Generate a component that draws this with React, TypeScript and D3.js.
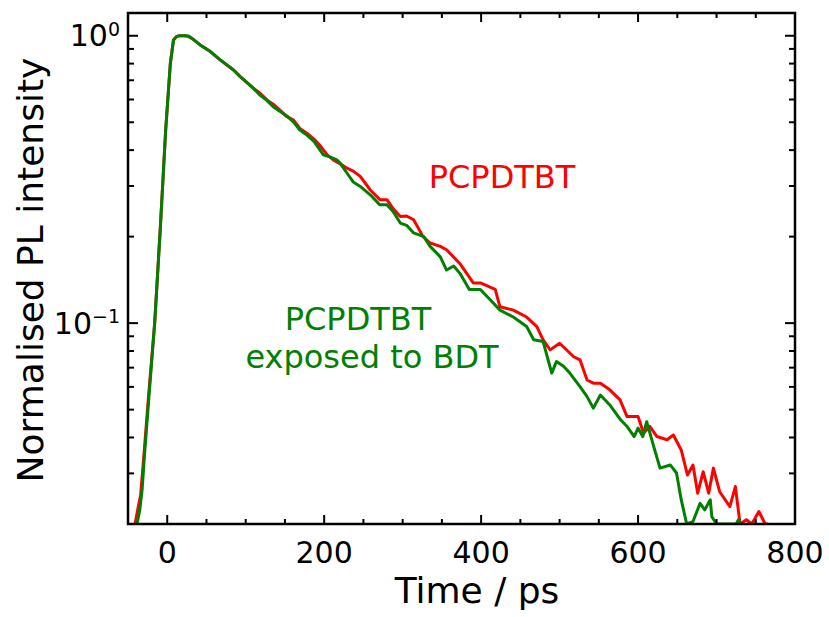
import * as d3 from 'd3';

const WIDTH = 829;
const HEIGHT = 617;
const PLOT = { left: 128, right: 795, top: 13, bottom: 524 };

// time (ps) / normalised PL
const redTime = [
  -41, -37, -34, -30, -24, -16, -9, -2, 4, 8, 12, 16, 22, 27, 31.5, 42, 55, 67.5, 84.5, 93,
  110, 118, 127, 135, 144, 152, 161, 169, 178, 187, 195, 204, 212, 220, 229, 237, 246, 259,
  271, 280, 288, 297, 305, 314, 326, 335, 348, 356, 373, 390, 399, 418, 424, 441, 458, 471,
  479, 488, 500, 518, 526, 535, 543, 552, 564, 577, 586, 600, 607, 615, 624, 637, 645, 655,
  663, 670, 676, 683, 690, 696, 704, 717, 724, 730, 738, 745, 754, 762, 766,
];
const redPL = [
  0.02, 0.0229, 0.0251, 0.0339, 0.055, 0.1, 0.211, 0.47, 0.804, 0.966, 0.995, 1.0, 1.0, 0.995,
  0.979, 0.929, 0.881, 0.824, 0.76, 0.721, 0.656, 0.632, 0.598, 0.578, 0.55, 0.524, 0.509,
  0.476, 0.458, 0.437, 0.414, 0.385, 0.369, 0.359, 0.346, 0.338, 0.324, 0.29, 0.269, 0.269,
  0.25, 0.235, 0.236, 0.229, 0.2, 0.19, 0.185, 0.18, 0.161, 0.138, 0.138, 0.131, 0.114, 0.111,
  0.105, 0.0973, 0.0875, 0.0807, 0.0851, 0.0764, 0.0745, 0.0634, 0.0618, 0.0618, 0.0586,
  0.0541, 0.0473, 0.0473, 0.0414, 0.0437, 0.0403, 0.0393, 0.0408, 0.0362, 0.0296, 0.0321,
  0.0256, 0.0304, 0.0256, 0.0313, 0.0259, 0.023, 0.027, 0.0195, 0.0207, 0.0199, 0.0221,
  0.0178, 0.017,
];

const greenTime = [
  -38.5, -35, -32, -29, -24, -16, -9, -2, 4, 8, 12, 16, 22, 27, 31.5, 42, 55, 67.5, 84.5, 93,
  110, 118, 127, 135, 144, 152, 161, 169, 178, 187, 199, 208, 216, 220, 229, 237, 246, 259,
  271, 280, 288, 297, 305, 314, 327, 335, 348, 356, 365, 373, 385, 399, 411, 424, 441, 458,
  467, 479, 490, 496, 505, 513, 526, 535, 543, 552, 564, 578, 586, 595, 600, 606, 611, 620,
  628, 641, 649, 655, 662, 670, 679, 685, 692, 694, 700, 704, 725, 728, 731,
];
const greenPL = [
  0.02, 0.0224, 0.0263, 0.0347, 0.0525, 0.1, 0.209, 0.468, 0.804, 0.966, 0.995, 1.0, 1.0,
  0.998, 0.979, 0.929, 0.881, 0.824, 0.76, 0.721, 0.656, 0.622, 0.596, 0.566, 0.545, 0.527,
  0.501, 0.47, 0.451, 0.429, 0.385, 0.378, 0.37, 0.361, 0.333, 0.31, 0.299, 0.279, 0.258,
  0.258, 0.244, 0.223, 0.219, 0.206, 0.2, 0.185, 0.17, 0.153, 0.158, 0.149, 0.131, 0.131,
  0.121, 0.111, 0.105, 0.0973, 0.0875, 0.0863, 0.067, 0.0735, 0.0708, 0.067, 0.0601, 0.0555,
  0.0506, 0.0562, 0.0519, 0.046, 0.0437, 0.0403, 0.0431, 0.0403, 0.0454, 0.0372, 0.0313,
  0.0321, 0.0301, 0.0243, 0.0178, 0.0204, 0.0236, 0.0224, 0.0243, 0.0212, 0.02, 0.018, 0.018,
  0.0207, 0.018,
];

const xMajor = [0, 200, 400, 600, 800];
const xMinor = [-50, 50, 100, 150, 250, 300, 350, 450, 500, 550, 650, 700, 750];
const yMajor = [1, 0.1];
const yMajorExp = ['0', '\u22121'];
const yMinor = [0.03, 0.04, 0.05, 0.06, 0.07, 0.08, 0.09, 0.2, 0.3, 0.4, 0.5, 0.6, 0.7, 0.8, 0.9];

const RED = '#ff0000';
const GREEN = '#008000';
const FONT = '"DejaVu Sans", sans-serif';

const App = () => {
  const xScale = d3.scaleLinear().domain([-50, 800]).range([PLOT.left, PLOT.right]);
  const yScale = d3.scaleLog().domain([0.02, 1.2]).range([PLOT.bottom, PLOT.top]).clamp(true);

  const line = d3
    .line<[number, number]>()
    .x((d) => xScale(d[0]))
    .y((d) => yScale(d[1]));

  const redPath = line(redTime.map((t, i) => [t, redPL[i]]));
  const greenPath = line(greenTime.map((t, i) => [t, greenPL[i]]));

  return (
    <svg
      width={WIDTH}
      height={HEIGHT}
      style={{ position: 'absolute', left: 0, top: 0, background: '#fff' }}
      fontFamily={FONT}
    >
      <defs>
        <clipPath id="plot-clip">
          <rect x={PLOT.left} y={PLOT.top} width={PLOT.right - PLOT.left} height={PLOT.bottom - PLOT.top} />
        </clipPath>
      </defs>

      <g clipPath="url(#plot-clip)">
        <path d={redPath || ''} fill="none" stroke={RED} strokeWidth={3} strokeLinejoin="round" />
        <path d={greenPath || ''} fill="none" stroke={GREEN} strokeWidth={3} strokeLinejoin="round" />
      </g>

      {/* x ticks, bottom and top, pointing inwards */}
      {xMajor.concat(xMinor).map((v, i) => {
        const len = xMajor.includes(v) ? 9 : 5;
        const x = xScale(v);
        return (
          <g key={'xt' + i} stroke="#000" strokeWidth={2}>
            <line x1={x} x2={x} y1={PLOT.bottom} y2={PLOT.bottom - len} />
            <line x1={x} x2={x} y1={PLOT.top} y2={PLOT.top + len} />
          </g>
        );
      })}
      {/* y ticks, left and right */}
      {yMajor.concat(yMinor).map((v, i) => {
        const len = yMajor.includes(v) ? 10 : 6;
        const y = yScale(v);
        return (
          <g key={'yt' + i} stroke="#000" strokeWidth={2}>
            <line x1={PLOT.left} x2={PLOT.left + len} y1={y} y2={y} />
            <line x1={PLOT.right} x2={PLOT.right - len} y1={y} y2={y} />
          </g>
        );
      })}

      <rect
        x={PLOT.left}
        y={PLOT.top}
        width={PLOT.right - PLOT.left}
        height={PLOT.bottom - PLOT.top}
        fill="none"
        stroke="#000"
        strokeWidth={2.5}
      />

      {xMajor.map((v) => (
        <text key={'xl' + v} x={xScale(v)} y={563} fontSize={30} textAnchor="middle" fill="#000">
          {v}
        </text>
      ))}
      {yMajor.map((v, i) => (
        <text key={'yl' + v} x={120} y={yScale(v) + 10.7} fontSize={30} textAnchor="end" fill="#000">
          10
          <tspan fontSize={19} dy={-10.7}>
            {yMajorExp[i]}
          </tspan>
        </text>
      ))}

      <text x={477} y={603} fontSize={36} textAnchor="middle" fill="#000">
        Time / ps
      </text>
      <text transform="translate(43, 270) rotate(-90)" fontSize={36} textAnchor="middle" fill="#000">
        Normalised PL intensity
      </text>

      <text x={502} y={188} fontSize={32} textAnchor="middle" fill={RED}>
        PCPDTBT
      </text>
      <text x={358} y={330} fontSize={32} textAnchor="middle" fill={GREEN}>
        PCPDTBT
      </text>
      <text x={372} y={368} fontSize={32} textAnchor="middle" fill={GREEN}>
        exposed to BDT
      </text>
    </svg>
  );
};

export default App;
